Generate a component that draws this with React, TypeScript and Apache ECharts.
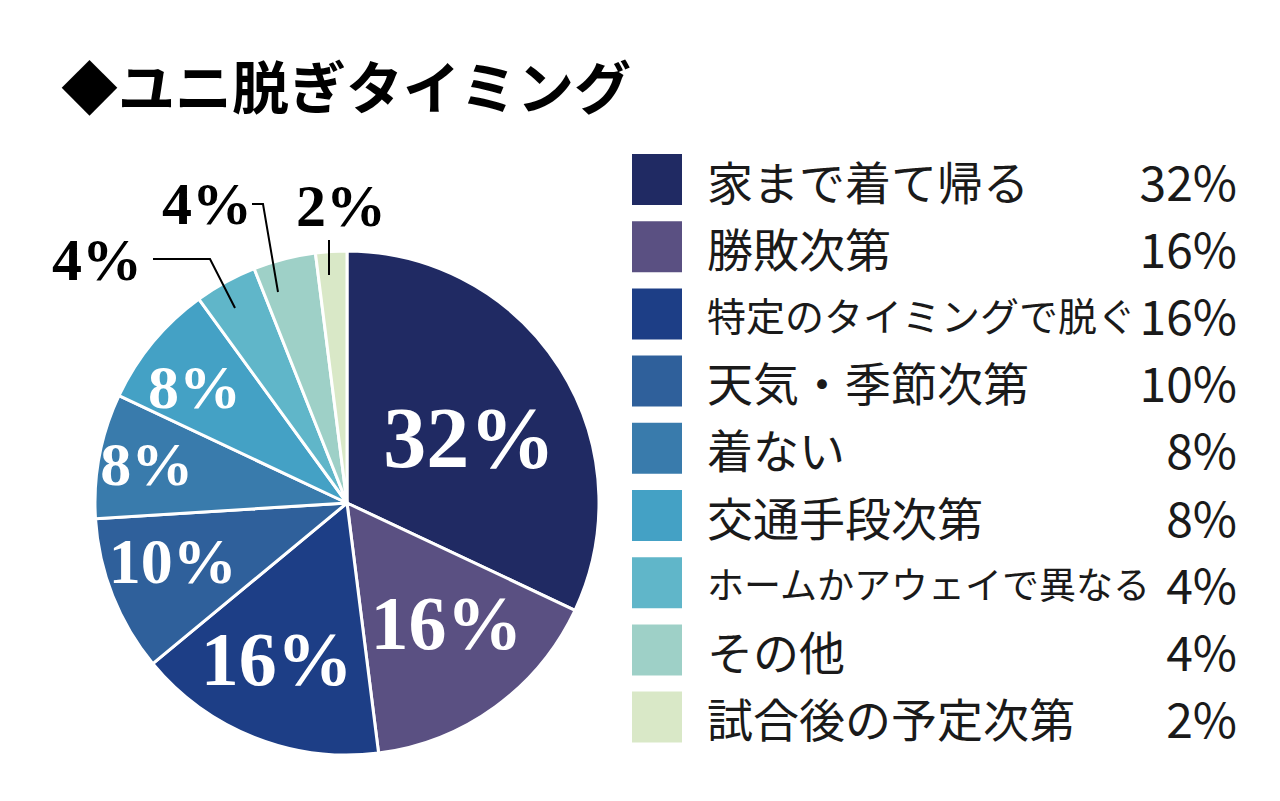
import React, { useEffect, useRef } from "react";
import * as echarts from "echarts";

const TITLE = "◆ユニ脱ぎタイミング";
const CATEGORIES = [
  "家まで着て帰る",
  "勝敗次第",
  "特定のタイミングで脱ぐ",
  "天気・季節次第",
  "着ない",
  "交通手段次第",
  "ホームかアウェイで異なる",
  "その他",
  "試合後の予定次第",
];
const VALUES = [32, 16, 16, 10, 8, 8, 4, 4, 2];
const COLORS = [
  "#202a63",
  "#5a5082",
  "#1d3e86",
  "#2f609b",
  "#397bac",
  "#44a1c5",
  "#60b6c9",
  "#9ed0c7",
  "#d9e8c7",
];

// style / layout constants
const CX = 347;
const CY = 503;
const RADIUS = 252;
const LABEL_SIZES = [86, 76, 76, 64, 62, 62, 60, 60, 60];
const INNER_LABEL_R: (number | null)[] = [0.55, 0.62, 0.68, 0.73, 0.81, 0.76, null, null, null];
const INNER_LABEL_DA = [4.2, -3.6, 2.6, 2.9, 0.2, -2.4, 0, 0, 0];
const OUTER_LABEL: Record<number, { label: number[]; line: number[][] }> = {
  6: { label: [-250, -243], line: [[-112, -195], [-137, -244], [-194, -244]] },
  7: { label: [-140, -299], line: [[-69, -211], [-84, -299], [-95, -299]] },
  8: { label: [-6, -297], line: [[-18, -228], [-18, -245], [-18, -263]] },
};
const LEGEND_FONT = "Noto Sans CJK JP";

export default function App() {
  const ref = useRef<HTMLDivElement>(null);
  useEffect(() => {
    if (!ref.current) return;
    const chart = echarts.init(ref.current, undefined, { renderer: "svg" });
    const total = VALUES.reduce((a, b) => a + b, 0);
    const mids: number[] = [];
    let acc = 0;
    VALUES.forEach((v) => {
      mids.push(acc + v / 2);
      acc += v;
    });
    // base pie: coloured sectors only
    const sectorData = CATEGORIES.map((name, i) => ({
      name,
      value: VALUES[i],
      itemStyle: { color: COLORS[i] },
    }));
    // overlay pie: transparent sectors carrying labels and leader lines above the sectors
    const labelData = CATEGORIES.map((name, i) => {
      const inner = INNER_LABEL_R[i] != null;
      return {
        name,
        value: VALUES[i],
        label: {
          show: true,
          position: inner ? "inside" : "outside",
          formatter: "{c}%",
          fontFamily: "Liberation Serif",
          fontWeight: "bold",
          fontSize: LABEL_SIZES[i],
          color: inner ? "#ffffff" : "#000000",
        },
        labelLine: {
          show: !inner,
          lineStyle: { color: "#000000", width: 2 },
        },
      };
    });
    const nameStyle = (size: number) => ({
      fontFamily: LEGEND_FONT,
      fontSize: size,
      lineHeight: 53,
      width: 440,
      padding: [0, 0, 0, 19],
      color: "#1a1a1a",
    });
    chart.setOption({
      animation: false,
      backgroundColor: "#ffffff",
      title: {
        text: TITLE,
        left: 56,
        top: 50,
        textStyle: {
          fontFamily: "Noto Sans CJK SC",
          fontWeight: "bold",
          fontSize: 57,
          color: "#000000",
        },
      },
      legend: {
        orient: "vertical",
        left: 630,
        top: 152,
        padding: 0,
        itemWidth: 52,
        itemHeight: 53,
        itemGap: 12.2,
        icon: "rect",
        selectedMode: false,
        data: CATEGORIES,
        formatter: (name: string) => {
          const key = name.length >= 12 ? "s" : name.length >= 11 ? "m" : "n";
          return `{${key}|${name}}{p|${VALUES[CATEGORIES.indexOf(name)]}%}`;
        },
        textStyle: {
          color: "#1a1a1a",
          rich: {
            n: nameStyle(46),
            m: nameStyle(39),
            s: nameStyle(37),
            p: {
              fontFamily: LEGEND_FONT,
              fontSize: 48,
              lineHeight: 53,
              width: 90,
              align: "right",
              color: "#1a1a1a",
            },
          },
        },
      },
      series: [
        {
          type: "pie",
          z: 2,
          center: [CX, CY],
          radius: RADIUS,
          startAngle: 90,
          clockwise: true,
          itemStyle: { borderColor: "#ffffff", borderWidth: 3 },
          label: { show: false },
          labelLine: { show: false },
          emphasis: { disabled: true },
          data: sectorData,
        },
        {
          type: "pie",
          z: 5,
          silent: true,
          center: [CX, CY],
          radius: RADIUS,
          startAngle: 90,
          clockwise: true,
          avoidLabelOverlap: false,
          itemStyle: { color: "rgba(0,0,0,0)", borderWidth: 0 },
          emphasis: { disabled: true },
          data: labelData,
          labelLayout: (params: any) => {
            const i = params.dataIndex;
            if (INNER_LABEL_R[i] != null) {
              const theta = ((mids[i] / total) * 360 + INNER_LABEL_DA[i]) * (Math.PI / 180);
              const r = RADIUS * (INNER_LABEL_R[i] as number);
              return {
                x: CX + r * Math.sin(theta),
                y: CY - r * Math.cos(theta),
                align: "center",
                verticalAlign: "middle",
              };
            }
            const o = OUTER_LABEL[i];
            return {
              x: CX + o.label[0],
              y: CY + o.label[1],
              align: "center",
              verticalAlign: "middle",
              labelLinePoints: o.line.map((p) => [CX + p[0], CY + p[1]]),
            };
          },
        },
      ],
    });
    return () => chart.dispose();
  }, []);
  return (
    <div
      ref={ref}
      style={{ position: "absolute", left: 0, top: 0, width: 1280, height: 801 }}
    />
  );
}
